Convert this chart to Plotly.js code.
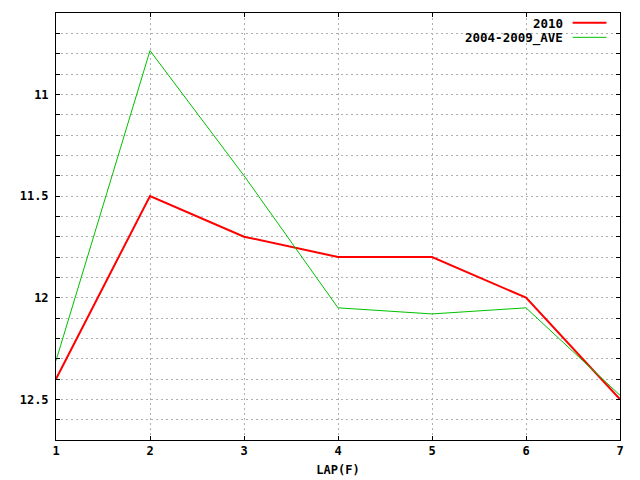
<!DOCTYPE html>
<html>
<head>
<meta charset="utf-8">
<script src="https://cdn.plot.ly/plotly-3.0.1.min.js"></script>
<style>
  html, body { margin: 0; padding: 0; background: #ffffff; }
  #chart { width: 640px; height: 480px; }
</style>
</head>
<body>
<div id="chart"></div>
<script>
// Datos de vueltas (LAP) y tiempos por serie
const laps = [1, 2, 3, 4, 5, 6, 7];
const times2010 = [12.4, 11.5, 11.7, 11.8, 11.8, 12.0, 12.5];
const timesAve = [12.31, 10.785, 11.4, 12.05, 12.08, 12.05, 12.48];
const seriesNames = ['2010', '2004-2009_AVE'];
const seriesColors = ['#ff0000', '#00c000'];
const seriesWidths = [2, 1];
const yTickVals = [11, 11.5, 12, 12.5];

const FONT = "'DejaVu Sans Mono', 'Liberation Mono', monospace";
const LEG_STEP = 0.034;

const traces = [times2010, timesAve].map((serie, i) => ({
    x: laps,
    y: serie,
    type: 'scatter',
    mode: 'lines',
    name: seriesNames[i],
    line: { color: seriesColors[i], width: seriesWidths[i] },
    showlegend: false,
    hoverinfo: 'skip'
}));

// Leyenda estilo gnuplot: texto alineado a la derecha y muestra de linea despues
const annotations = seriesNames.map((nombre, i) => ({
    xref: 'paper', yref: 'paper',
    x: 0.901, y: 0.976 - i * LEG_STEP,
    xanchor: 'right', yanchor: 'middle',
    text: nombre,
    showarrow: false,
    borderpad: 0,
    font: { family: FONT, size: 12.5, color: '#000000', weight: 'bold' }
}));

const shapes = seriesNames.map((nombre, i) => ({
    type: 'line',
    xref: 'paper', yref: 'paper',
    x0: 0.916, x1: 0.976,
    y0: 0.977 - i * LEG_STEP, y1: 0.977 - i * LEG_STEP,
    line: { color: seriesColors[i], width: seriesWidths[i] }
}));

const gridStyle = { gridcolor: '#b0b0b0', griddash: '2px,3px', gridwidth: 1 };

const layout = {
    width: 640,
    height: 480,
    paper_bgcolor: '#ffffff',
    plot_bgcolor: '#ffffff',
    margin: { l: 56, r: 20, t: 13, b: 40 },
    font: { family: FONT, size: 12, color: '#000000', weight: 'bold' },
    showlegend: false,
    xaxis: {
        range: [1, 7],
        tickvals: laps,
        ticks: 'inside',
        ticklen: 4,
        tickcolor: '#000000',
        showline: true,
        linecolor: '#000000',
        linewidth: 1,
        mirror: 'allticks',
        showgrid: true,
        ...gridStyle,
        zeroline: false,
        tickfont: { family: FONT, size: 12, weight: 'bold' },
        title: { text: 'LAP(F)', font: { family: FONT, size: 12, weight: 'bold' }, standoff: 8 }
    },
    yaxis: {
        range: [12.7, 10.6],
        tickvals: yTickVals,
        ticktext: yTickVals.map(v => String(v)),
        ticks: 'inside',
        ticklen: 4,
        tickcolor: '#000000',
        showline: true,
        linecolor: '#000000',
        linewidth: 1,
        mirror: 'allticks',
        showgrid: true,
        ...gridStyle,
        zeroline: false,
        ticklabelstandoff: 4,
        tickfont: { family: FONT, size: 12, weight: 'bold' },
        minor: {
            dtick: 0.1,
            tick0: 11,
            ticks: 'inside',
            ticklen: 4,
            tickcolor: '#000000',
            showgrid: true,
            ...gridStyle
        }
    },
    annotations: annotations,
    shapes: shapes
};

Plotly.newPlot('chart', traces, layout, { displayModeBar: false, staticPlot: true });
</script>
</body>
</html>
